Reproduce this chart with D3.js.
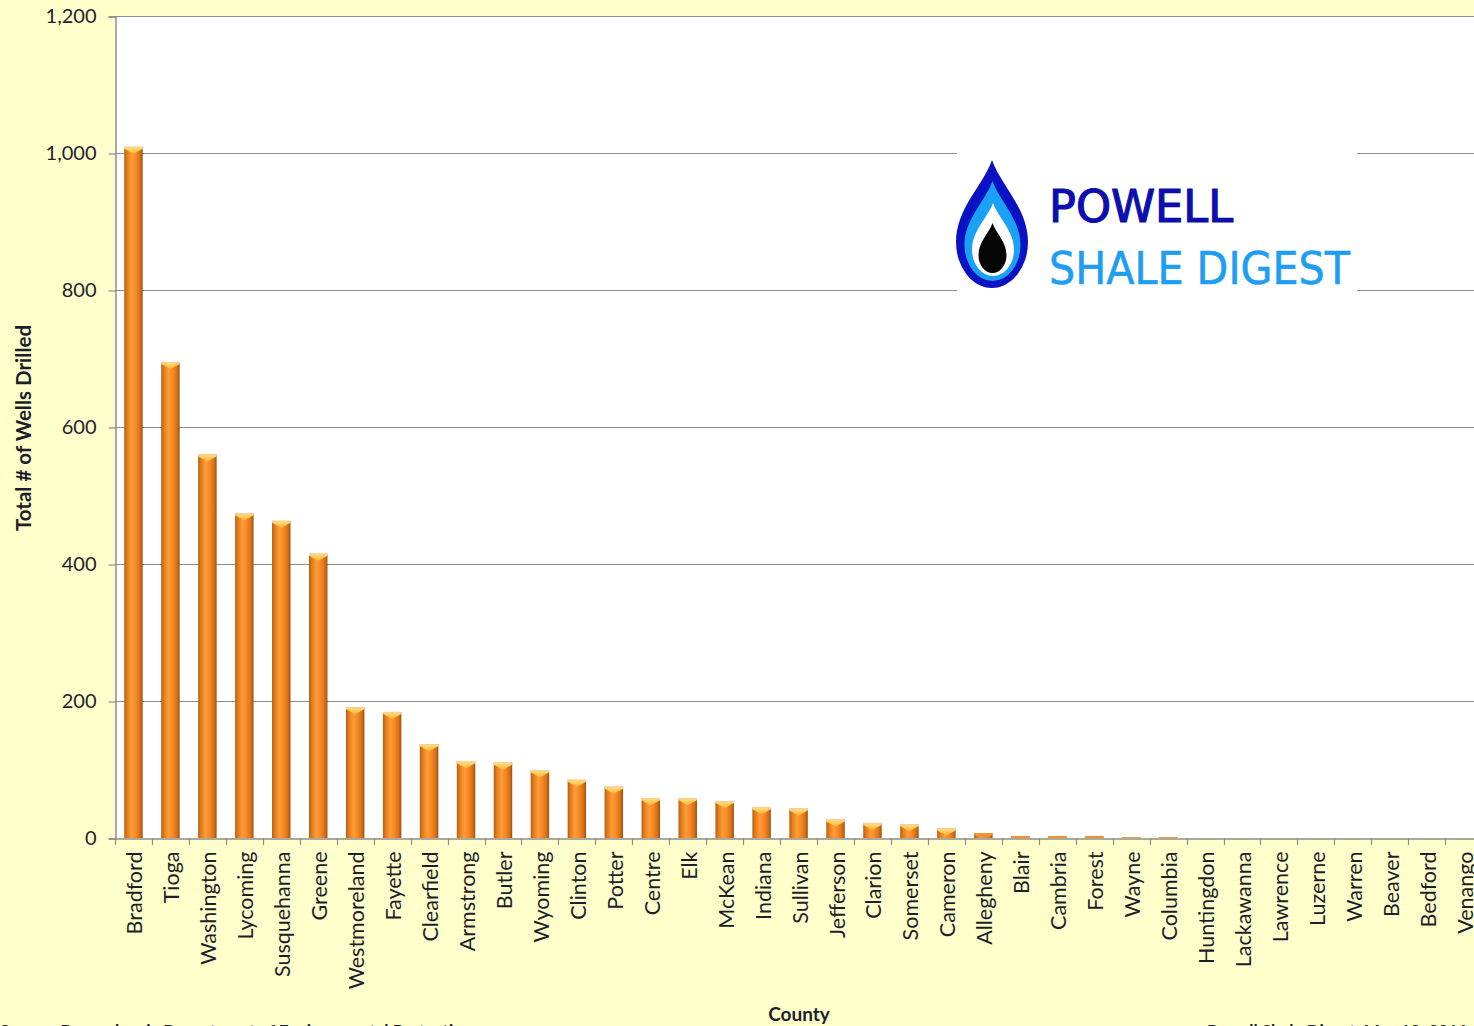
<!DOCTYPE html>
<html>
<head>
<meta charset="utf-8">
<script src="https://cdn.jsdelivr.net/npm/d3@7"></script>
<style>
  html, body { margin: 0; padding: 0; background: #FFFFCC; overflow: hidden; }
  svg { display: block; }
</style>
</head>
<body>
<svg id="chart" width="1474" height="1026"></svg>
<script>
// Marcellus wells drilled per Pennsylvania county
const counties = ["Bradford", "Tioga", "Washington", "Lycoming", "Susquehanna", "Greene",
  "Westmoreland", "Fayette", "Clearfield", "Armstrong", "Butler", "Wyoming", "Clinton",
  "Potter", "Centre", "Elk", "McKean", "Indiana", "Sullivan", "Jefferson", "Clarion",
  "Somerset", "Cameron", "Allegheny", "Blair", "Cambria", "Forest", "Wayne", "Columbia",
  "Huntingdon", "Lackawanna", "Lawrence", "Luzerne", "Warren", "Beaver", "Bedford", "Venango"];
const wells = [1009, 695, 560, 474, 463, 415,
  191, 184, 137, 112, 110, 99, 85,
  75, 58, 58, 54, 45, 43, 27, 22,
  20, 14, 7, 3, 3, 3, 1, 1,
  0, 0, 0, 0, 0, 0, 0, 0];
const yTicks = [0, 200, 400, 600, 800, 1000, 1200];

const svg = d3.select("#chart");
const plotLeft = 115, plotTop = 16, plotBottom = 838;
const step = 36.95;
const plotRight = plotLeft + step * counties.length;
const font = "Lato, 'Open Sans', sans-serif";
const textColor = "#1e1e2a";
const gridColor = "#8c8c8c";

const x = d3.scaleBand().domain(counties).range([plotLeft, plotRight]).paddingInner(0.5).paddingOuter(0.25);
const y = d3.scaleLinear().domain([0, 1200]).range([plotBottom, plotTop]);

// gradients for the cylinder-style bars
const defs = svg.append("defs");
const g1 = defs.append("linearGradient").attr("id", "barGrad").attr("x1", "0").attr("x2", "1").attr("y1", "0").attr("y2", "0");
[["0%", "#B4600F"], ["15%", "#E27A1C"], ["40%", "#FF9C38"], ["60%", "#F88C26"], ["85%", "#DA7018"], ["100%", "#9A5210"]]
  .forEach(([o, c]) => g1.append("stop").attr("offset", o).attr("stop-color", c));
const g2 = defs.append("linearGradient").attr("id", "capGrad").attr("x1", "0").attr("x2", "0").attr("y1", "0").attr("y2", "1");
[["0%", "#FFE27A"], ["100%", "#FFB53A"]].forEach(([o, c]) => g2.append("stop").attr("offset", o).attr("stop-color", c));

// plot area
svg.append("rect").attr("x", plotLeft).attr("y", plotTop).attr("width", 1474 - plotLeft + 20).attr("height", plotBottom - plotTop).attr("fill", "#FFFFFF");

// horizontal gridlines
svg.append("g").selectAll("line").data(yTicks.filter(d => d > 0)).join("line")
  .attr("x1", plotLeft).attr("x2", plotRight + 10)
  .attr("y1", d => Math.round(y(d)) + 0.5).attr("y2", d => Math.round(y(d)) + 0.5)
  .attr("stroke", gridColor).attr("stroke-width", 1.2);

// y axis
const yAxis = d3.axisLeft(y).tickValues(yTicks).tickSize(7).tickPadding(12).tickFormat(d3.format(","));
const ya = svg.append("g").attr("transform", `translate(${plotLeft + 0.5},0.5)`).call(yAxis);
ya.select(".domain").attr("stroke", gridColor).attr("stroke-width", 1.5);
ya.selectAll(".tick line").attr("stroke", gridColor).attr("stroke-width", 1.2);
ya.selectAll(".tick text").attr("font-family", font).attr("font-size", 20).attr("fill", textColor);

// bars
const bars = svg.append("g").selectAll("g").data(counties.map((c, i) => ({ c, v: wells[i] })).filter(d => d.v > 0)).join("g");
bars.append("rect")
  .attr("x", d => x(d.c)).attr("width", x.bandwidth())
  .attr("y", d => y(d.v)).attr("height", d => y(0) - y(d.v))
  .attr("fill", "url(#barGrad)");
bars.append("path")
  .attr("d", d => {
    const x0 = x(d.c), x1 = x0 + x.bandwidth(), cx = (x0 + x1) / 2, t = y(d.v);
    const h = Math.min(7, y(0) - t);
    return `M${x0},${t} L${x1},${t} L${x1},${t + Math.min(2, h)} L${cx},${t + h} L${x0},${t + Math.min(2, h)} Z`;
  })
  .attr("fill", d => (y(0) - y(d.v) > 6 ? "url(#capGrad)" : "#F39030"));
bars.filter(d => y(0) - y(d.v) > 6).append("line")
  .attr("x1", d => x(d.c)).attr("x2", d => x(d.c) + x.bandwidth())
  .attr("y1", d => y(d.v) + 0.5).attr("y2", d => y(d.v) + 0.5)
  .attr("stroke", "#FFC9A8").attr("stroke-width", 1);

// x axis
const xAxis = d3.axisBottom(x).tickSize(0).tickPadding(0);
const xa = svg.append("g").attr("transform", `translate(0,${plotBottom + 0.5})`).call(xAxis);
xa.select(".domain").attr("stroke", gridColor).attr("stroke-width", 1.5);
xa.selectAll(".tick text")
  .attr("font-family", font).attr("font-size", 21.5).attr("fill", textColor)
  .attr("text-anchor", "end").attr("dy", null).attr("y", null)
  .attr("dominant-baseline", "central")
  .attr("transform", "translate(1,13) rotate(-90)");
// tick marks at band boundaries
svg.append("g").selectAll("line").data(d3.range(counties.length + 1)).join("line")
  .attr("x1", i => Math.round(plotLeft + i * step) + 0.5).attr("x2", i => Math.round(plotLeft + i * step) + 0.5)
  .attr("y1", plotBottom).attr("y2", plotBottom + 7)
  .attr("stroke", gridColor).attr("stroke-width", 1.2);

// axis titles
svg.append("text").attr("transform", "translate(31,428) rotate(-90)")
  .attr("text-anchor", "middle").attr("font-family", font).attr("font-weight", "bold")
  .attr("font-size", 20.5).attr("fill", textColor).text("Total # of Wells Drilled");
svg.append("text").attr("x", 799).attr("y", 1021)
  .attr("text-anchor", "middle").attr("font-family", font).attr("font-weight", "bold")
  .attr("font-size", 19).attr("fill", textColor).text("County");

// footer notes, running off the bottom edge
svg.append("text").attr("x", 0).attr("y", 1037)
  .attr("font-family", font).attr("font-weight", "bold").attr("font-size", 17).attr("fill", textColor)
  .text("Source: Pennsylvania Department of Environmental Protection");
svg.append("text").attr("x", 1207).attr("y", 1037)
  .attr("font-family", font).attr("font-weight", "bold").attr("font-size", 17).attr("fill", textColor)
  .text("Powell Shale Digest, May 10, 2011");

// logo
const logo = svg.append("g");
logo.append("rect").attr("x", 957).attr("y", 142).attr("width", 400).attr("height", 156).attr("fill", "#FFFFFF");
function drop(cx, t, b, w) {
  const h = b - t, m = t + h * 0.64, ry = b - m;
  return `M${cx},${t} C${cx + w * 0.25},${t + h * 0.2} ${cx + w},${t + h * 0.38} ${cx + w},${m} ` +
    `A${w},${ry} 0 0 1 ${cx - w},${m} C${cx - w},${t + h * 0.38} ${cx - w * 0.25},${t + h * 0.2} ${cx},${t} Z`;
}
logo.append("path").attr("d", drop(992, 160, 288, 36)).attr("fill", "#0A12C4");
logo.append("path").attr("d", drop(992.5, 181, 281, 28)).attr("fill", "#1AA0F4");
logo.append("path").attr("d", drop(993, 203, 276, 21)).attr("fill", "#FFFFFF");
logo.append("path").attr("d", drop(992.5, 223, 273, 14)).attr("fill", "#050505");
logo.append("text").attr("x", 1049).attr("y", 222)
  .attr("font-family", "'DejaVu Sans', Verdana, sans-serif").attr("font-size", 44)
  .attr("textLength", 184).attr("lengthAdjust", "spacingAndGlyphs")
  .attr("fill", "#0E0EAE").attr("stroke", "#0E0EAE").attr("stroke-width", 1.2).text("POWELL");
logo.append("text").attr("x", 1049).attr("y", 284)
  .attr("font-family", "'DejaVu Sans', Verdana, sans-serif").attr("font-size", 44)
  .attr("textLength", 301).attr("lengthAdjust", "spacingAndGlyphs")
  .attr("fill", "#1E9EF2").attr("stroke", "#1E9EF2").attr("stroke-width", 0.6).text("SHALE DIGEST");
</script>
</body>
</html>
